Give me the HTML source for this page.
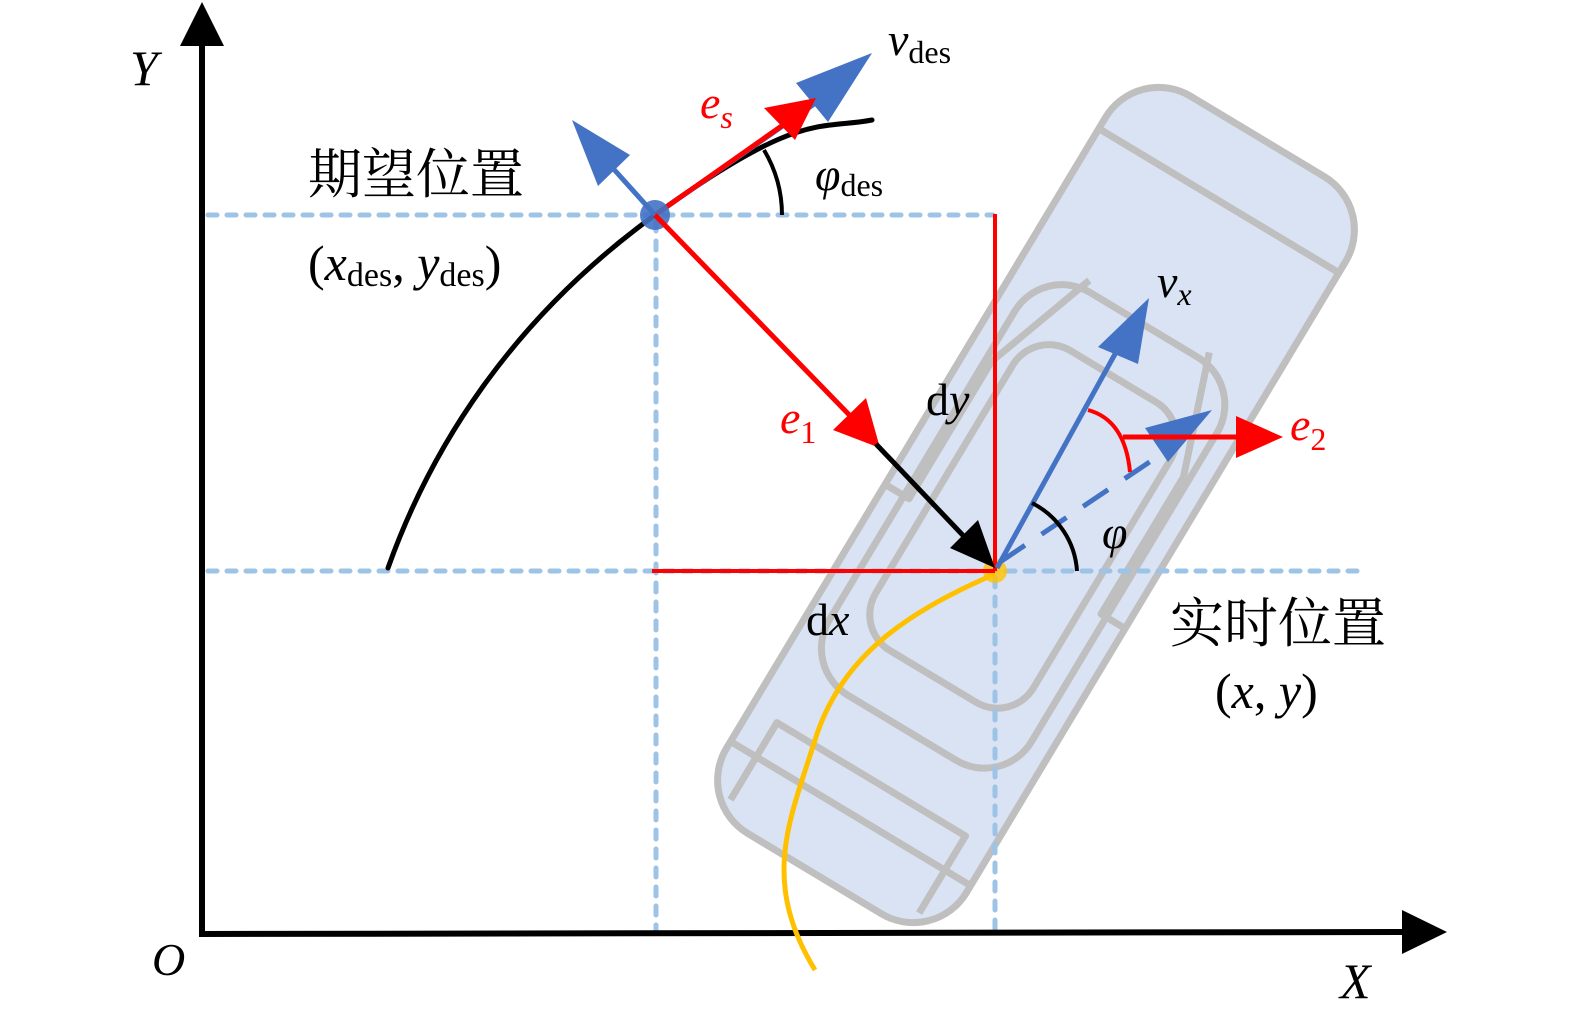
<!DOCTYPE html>
<html><head><meta charset="utf-8"><style>
html,body{margin:0;padding:0;background:#fff;}
svg{display:block;}
.m{font-family:"Liberation Serif","Noto Serif CJK SC",serif;font-style:italic;}
.r{font-family:"Liberation Serif",serif;}
.cn{font-family:"Liberation Serif","Noto Serif CJK SC","Noto Sans CJK SC",serif;}
</style></head><body>
<svg width="1575" height="1017" viewBox="0 0 1575 1017" xmlns="http://www.w3.org/2000/svg">
<!-- car -->
<g transform="translate(1036,505) rotate(-59)" fill="none" stroke="#bfbfbf" stroke-width="7" stroke-linejoin="round">
  <rect x="-430" y="-140" width="860" height="280" rx="62" fill="#dae3f3"/>
  <line x1="355" y1="-140" x2="355" y2="140"/>
  <line x1="-360" y1="-140" x2="-360" y2="140"/>
  <rect x="-260" y="-118" width="470" height="236" rx="55"/>
  <rect x="-200" y="-92" width="350" height="184" rx="42"/>
  <path d="M-60,-140 L-60,-112 L100,-112 L220,-70"/>
  <path d="M-60,140 L-60,112 L100,112 L220,70"/>
  <path d="M-410,-110 L-320,-110 L-320,110 L-410,110"/>
</g>
<!-- dashed guides -->
<g stroke="#9dc3e6" stroke-width="5" stroke-dasharray="9,10" stroke-linecap="round" fill="none">
  <line x1="208" y1="215" x2="993" y2="215"/>
  <line x1="208" y1="571" x2="1358" y2="571"/>
  <line x1="656" y1="222" x2="656" y2="930"/>
  <line x1="995" y1="578" x2="995" y2="930"/>
</g>
<!-- axes -->
<g stroke="#000" stroke-width="6" fill="none">
  <line x1="202" y1="937" x2="202" y2="40"/>
  <line x1="199" y1="934" x2="1405" y2="932"/>
</g>
<polygon points="202,2 180,46 224,46" fill="#000"/>
<polygon points="1447,932 1402,910 1402,954" fill="#000"/>
<!-- black path curve -->
<path d="M388,568 C430,450 510,320 655,215 S820,130 872,120" fill="none" stroke="#000" stroke-width="5" stroke-linecap="round"/>
<!-- yellow path -->
<path d="M995,574 C900,615 840,660 815,740 C790,820 760,880 815,970" fill="none" stroke="#ffc000" stroke-width="5"/>
<circle cx="995" cy="571" r="12" fill="#ffc000" opacity="0.8"/>
<!-- red dx dy -->
<line x1="995" y1="214" x2="995" y2="571" stroke="#ff0000" stroke-width="4"/>
<line x1="652" y1="571" x2="995" y2="571" stroke="#ff0000" stroke-width="4"/>
<!-- phi_des arc -->
<path d="M782,215 A127,127 0 0 0 764,150" fill="none" stroke="#000" stroke-width="4"/>
<!-- blue normal arrow -->
<line x1="655" y1="215" x2="610" y2="165" stroke="#4472c4" stroke-width="5"/>
<polygon points="572,120 630,155 598,186" fill="#4472c4"/>
<!-- v_des -->
<line x1="655" y1="215" x2="820" y2="100" stroke="#4472c4" stroke-width="5"/>
<polygon points="872,53 796,83 828,122" fill="#4472c4"/>
<!-- e_s -->
<line x1="655" y1="215" x2="790" y2="120" stroke="#ff0000" stroke-width="5"/>
<polygon points="816,98 764,108 795,140" fill="#ff0000"/>
<circle cx="655" cy="215" r="15" fill="#4472c4" opacity="0.9"/>
<!-- e1 -->
<line x1="655" y1="215" x2="862" y2="428" stroke="#ff0000" stroke-width="5"/>
<polygon points="880,448 833,430 866,398" fill="#ff0000"/>
<line x1="876" y1="444" x2="975" y2="548" stroke="#000" stroke-width="5"/>
<polygon points="995,568 950,548 978,520" fill="#000"/>
<!-- v_x -->
<line x1="997" y1="568" x2="1120" y2="345" stroke="#4472c4" stroke-width="5"/>
<polygon points="1149,298 1098,347 1138,364" fill="#4472c4"/>
<!-- dashed blue heading -->
<line x1="1000" y1="562" x2="1160" y2="455" stroke="#4472c4" stroke-width="5" stroke-dasharray="30,20"/>
<polygon points="1212,410 1145,428 1168,462" fill="#4472c4"/>
<!-- phi arc -->
<path d="M1032,503 A82,82 0 0 1 1077,571" fill="none" stroke="#000" stroke-width="4"/>
<!-- red arc -->
<path d="M1088,410 Q1125,420 1130,472" fill="none" stroke="#ff0000" stroke-width="4"/>
<!-- e2 -->
<line x1="1123" y1="437" x2="1245" y2="437" stroke="#ff0000" stroke-width="5"/>
<polygon points="1283,437 1236,416 1236,458" fill="#ff0000"/>
<!-- labels -->
<text x="130" y="85" class="m" font-size="50">Y</text>
<text x="152" y="975" class="m" font-size="46">O</text>
<text x="1340" y="998" class="m" font-size="50">X</text>
<text x="888" y="55" class="m" font-size="46">v<tspan class="r" font-style="normal" font-size="32" dy="8">des</tspan></text>
<text x="700" y="118" class="m" font-size="46" fill="#ff0000">e<tspan font-size="32" dy="10">s</tspan></text>
<text x="815" y="190" class="m" font-size="46">φ<tspan class="r" font-style="normal" font-size="32" dy="6">des</tspan></text>
<text x="308" y="193" class="cn" font-size="54">期望位置</text>
<text x="308" y="280" class="r" font-size="50">(<tspan class="m">x</tspan><tspan font-size="34" dy="6">des</tspan><tspan dy="-6">,  </tspan><tspan class="m">y</tspan><tspan font-size="34" dy="6">des</tspan><tspan dy="-6">)</tspan></text>
<text x="1157" y="297" class="m" font-size="46">v<tspan font-size="32" dy="8">x</tspan></text>
<text x="780" y="433" class="m" font-size="46" fill="#ff0000">e<tspan class="r" font-style="normal" font-size="32" dy="10">1</tspan></text>
<text x="926" y="415" class="r" font-size="46">d<tspan class="m">y</tspan></text>
<text x="1290" y="440" class="m" font-size="46" fill="#ff0000">e<tspan class="r" font-style="normal" font-size="32" dy="10">2</tspan></text>
<text x="1102" y="548" class="m" font-size="46">φ</text>
<text x="806" y="635" class="r" font-size="46">d<tspan class="m">x</tspan></text>
<text x="1170" y="642" class="cn" font-size="54">实时位置</text>
<text x="1215" y="708" class="r" font-size="50">(<tspan class="m">x</tspan>,  <tspan class="m">y</tspan>)</text>
</svg>
</body></html>
